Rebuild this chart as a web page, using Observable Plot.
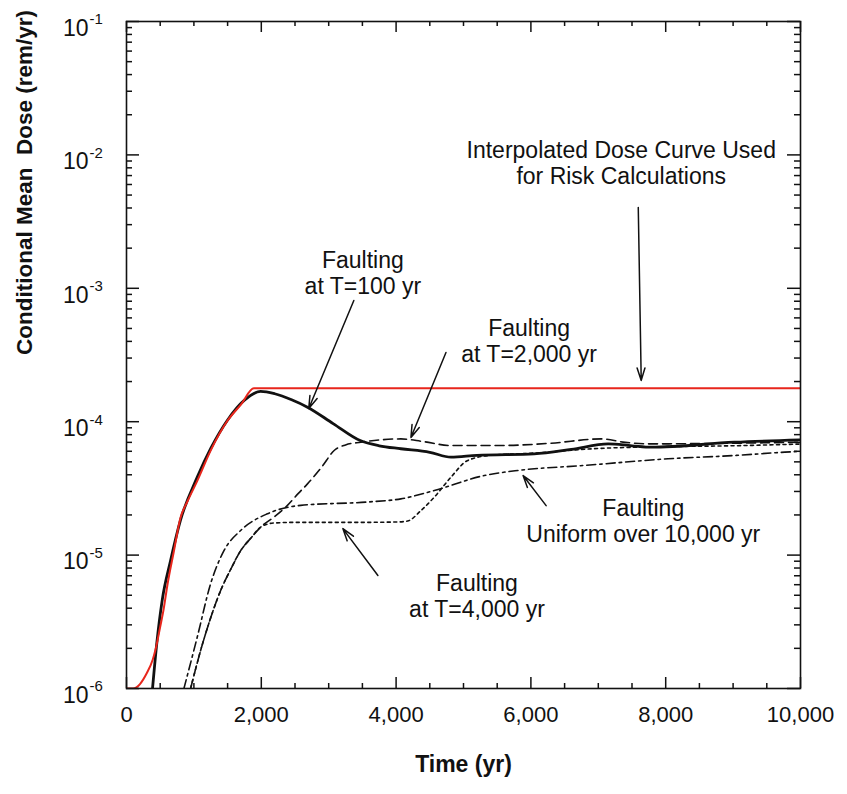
<!DOCTYPE html>
<html><head><meta charset="utf-8">
<script src="https://cdn.jsdelivr.net/npm/d3@7"></script>
<script src="https://cdn.jsdelivr.net/npm/@observablehq/plot@0.6"></script>
<style>body{margin:0;background:#fff;} svg{display:block}</style>
</head><body><div id="chart"></div>
<script>
// ---- data ----
const interpT = [0,100,200,300,390,430,500,550,610,700,800,900,1050,1250,1500,1700,1890,10000];
const interpD = [1e-6,1.0e-6,1.08e-6,1.3e-6,1.65e-6,1.95e-6,2.9e-6,3.9e-6,6.1e-6,1.05e-5,1.9e-5,2.5e-5,3.6e-5,6.1e-5,1.02e-4,1.35e-4,1.78e-4,1.78e-4];

const t100T = [386,450,530,654,800,1050,1250,1500,1750,1990,2200,2450,2685,3071,3467,3750,4071,4500,4814,5200,6048,6600,7147,7500,7786,9019,10000];
const t100D = [1e-6,2.2e-6,4.6e-6,9.1e-6,1.82e-5,3.84e-5,6.3e-5,1.03e-4,1.45e-4,1.69e-4,1.62e-4,1.46e-4,1.285e-4,9.64e-5,7.22e-5,6.6e-5,6.27e-5,5.9e-5,5.42e-5,5.6e-5,5.74e-5,6.2e-5,6.82e-5,6.6e-5,6.44e-5,7.02e-5,7.31e-5];

const t2000T = [951,1100,1250,1397,1550,1694,1850,1990,2200,2388,2550,2685,2900,3081,3250,3477,4071,4400,4814,5557,6300,7043,7400,7786,9000,10000];
const t2000D = [1e-6,1.93e-6,3.4e-6,5.43e-6,7.9e-6,1.08e-5,1.35e-5,1.62e-5,1.95e-5,2.36e-5,2.9e-5,3.42e-5,4.6e-5,6.08e-5,6.7e-5,7.02e-5,7.43e-5,7.1e-5,6.63e-5,6.63e-5,6.9e-5,7.43e-5,7.0e-5,6.82e-5,6.9e-5,7.02e-5];

const t4000T = [951,1100,1250,1397,1550,1694,1850,1990,2185,2500,3000,3500,4000,4170,4370,4567,4814,5062,5400,6000,7000,8000,9000,10000];
const t4000D = [1e-6,1.93e-6,3.4e-6,5.43e-6,7.9e-6,1.08e-5,1.35e-5,1.62e-5,1.74e-5,1.76e-5,1.76e-5,1.76e-5,1.77e-5,1.8e-5,2.16e-5,2.72e-5,3.84e-5,5.12e-5,5.6e-5,5.8e-5,6.3e-5,6.5e-5,6.6e-5,6.8e-5];

const uniT = [852,1050,1248,1446,1694,2090,2585,3576,4071,4567,5309,5805,6795,8034,9024,9767,10000];
const uniD = [1e-6,2.43e-6,6.1e-6,1.08e-5,1.53e-5,2.04e-5,2.36e-5,2.5e-5,2.64e-5,3.05e-5,3.95e-5,4.31e-5,4.7e-5,5.27e-5,5.58e-5,5.91e-5,6.0e-5];

const xMajor = [0,2000,4000,6000,8000,10000];
const xMinor = [500,1000,1500,2500,3000,3500,4500,5000,5500,6500,7000,7500,8500,9000,9500];
const yMajor = [1e-6,1e-5,1e-4,1e-3,1e-2,1e-1];
const yMinor = [1e-6,1e-5,1e-4,1e-3,1e-2].flatMap(d => [2,3,4,5,6,7,8,9].map(k => k*d));

const labelText = ["Faulting\nat T=100 yr","Faulting\nat T=2,000 yr","Interpolated Dose Curve Used\nfor Risk Calculations","Faulting\nUniform over 10,000 yr","Faulting\nat T=4,000 yr"];
const labelT = [3507, 5973, 7340, 7667, 5200];
const labelD = [1.32e-3, 4.02e-4, 8.69e-3, 1.80e-5, 4.93e-6];

const arrowT1 = [3373, 4740, 7593, 6226, 3730];
const arrowD1 = [8.1e-4, 3.3e-4, 4.04e-3, 2.35e-5, 7.03e-6];
const arrowT2 = [2704, 4220, 7637, 5884, 3210];
const arrowD2 = [1.256e-4, 7.62e-5, 2.04e-4, 3.95e-5, 1.58e-5];

// ---- build tables ----
const pts = (T, D) => T.map((t, i) => ({t, d: D[i]}));
const labels = labelText.map((s, i) => ({s, t: labelT[i], d: labelD[i]}));
const arrows = arrowT1.map((t, i) => ({t1: t, d1: arrowD1[i], t2: arrowT2[i], d2: arrowD2[i]}));

const W = 847, H = 794, mL = 126, mR = 47, mT = 21, mB = 106;
const plotW = W - mL - mR, plotH = H - mT - mB;
const font = "'Liberation Sans', Arial, Helvetica, sans-serif";
const lineOpts = {x: "t", y: "d", curve: "monotone-x", clip: true};

const chart = Plot.plot({
  width: W, height: H,
  marginLeft: mL, marginRight: mR, marginTop: mT, marginBottom: mB,
  style: {fontFamily: font, background: "#fff", color: "#111"},
  x: {domain: [0, 10000], axis: null},
  y: {type: "log", domain: [1e-6, 1e-1], axis: null},
  marks: [
    Plot.line(pts(uniT, uniD), {...lineOpts, stroke: "#111", strokeWidth: 1.6, strokeDasharray: "9,4,2.5,4"}),
    Plot.line(pts(t4000T, t4000D), {...lineOpts, stroke: "#111", strokeWidth: 1.6, strokeDasharray: "3,3.5"}),
    Plot.line(pts(t2000T, t2000D), {...lineOpts, stroke: "#111", strokeWidth: 1.6, strokeDasharray: "9,5"}),
    Plot.line(pts(t100T, t100D), {...lineOpts, stroke: "#111", strokeWidth: 2.8}),
    Plot.line(pts(interpT, interpD), {...lineOpts, stroke: "#e8261c", strokeWidth: 2}),
    // ticks (inside)
    Plot.tickX(xMajor, {x: d => d, insetTop: plotH - 11, stroke: "#111", strokeWidth: 1.5}),
    Plot.tickX(xMinor, {x: d => d, insetTop: plotH - 5, stroke: "#111", strokeWidth: 1.5}),
    Plot.tickX(xMajor, {x: d => d, insetBottom: plotH - 11, stroke: "#111", strokeWidth: 1.5}),
    Plot.tickX(xMinor, {x: d => d, insetBottom: plotH - 5, stroke: "#111", strokeWidth: 1.5}),
    Plot.tickY(yMajor, {y: d => d, insetRight: plotW - 13, stroke: "#111", strokeWidth: 1.5}),
    Plot.tickY(yMinor, {y: d => d, insetRight: plotW - 6, stroke: "#111", strokeWidth: 1.5}),
    Plot.tickY(yMajor, {y: d => d, insetLeft: plotW - 13, stroke: "#111", strokeWidth: 1.5}),
    Plot.tickY(yMinor, {y: d => d, insetLeft: plotW - 6, stroke: "#111", strokeWidth: 1.5}),
    Plot.frame({stroke: "#111", strokeWidth: 1.6}),
    // tick labels
    Plot.text(xMajor, {x: d => d, frameAnchor: "bottom", dy: 33, text: d => d3.format(",")(d), fontSize: 22, fill: "#111"}),
    Plot.text(yMajor, {y: d => d, frameAnchor: "left", dx: -38, dy: 7, textAnchor: "end", text: () => "10", fontSize: 23, fill: "#111"}),
    Plot.text(yMajor, {y: d => d, frameAnchor: "left", dx: -37, dy: -2, textAnchor: "start", text: d => "-" + Math.round(-Math.log10(d)), fontSize: 15, fill: "#111"}),
    // axis titles
    Plot.text(["Time (yr)"], {frameAnchor: "bottom", dy: 83, text: d => d, fontSize: 23, fontWeight: "bold", fill: "#111"}),
    Plot.text(["Conditional Mean\u00a0 Dose (rem/yr)"], {frameAnchor: "left", dx: -102, rotate: -90, text: d => d, fontSize: 22.5, fontWeight: "bold", fill: "#111"}),
    // annotations
    Plot.text(labels, {x: "t", y: "d", text: "s", fontSize: 23, lineHeight: 1.13, fill: "#111"}),
    Plot.arrow(arrows, {x1: "t1", y1: "d1", x2: "t2", y2: "d2", stroke: "#111", strokeWidth: 1.5, headLength: 13, headAngle: 35})
  ]
});
document.getElementById("chart").appendChild(chart);
</script>
</body></html>
